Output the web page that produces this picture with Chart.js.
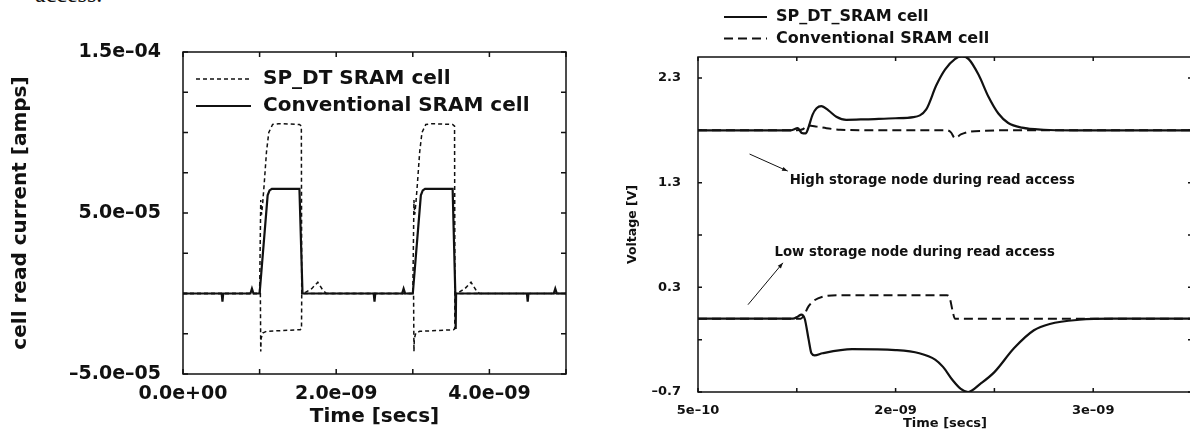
<!DOCTYPE html>
<html>
<head>
<meta charset="utf-8">
<script src="https://cdn.jsdelivr.net/npm/chart.js@4.4.1/dist/chart.umd.min.js"></script>
<style>
  html, body { margin: 0; padding: 0; background: #fff; overflow: hidden; width: 1190px; height: 437px; }
  .panel { position: absolute; top: 0; }
  #left { left: 0; }
  #right { left: 600px; }
  .cut { position: absolute; left: 35px; top: -18px; font: 24px "Liberation Serif"; line-height: 24px; color: #111; }
</style>
</head>
<body>
<div class="cut">access.</div>
<div class="panel" id="left"><canvas id="readCurrent" width="600" height="437"></canvas></div>
<div class="panel" id="right"><canvas id="nodeVoltage" width="600" height="437"></canvas></div>
<script>
// left panel: cell read current vs time
const convTime = [0, 0.505e-9, 0.515e-9, 0.525e-9, 0.88e-9, 0.90e-9, 0.92e-9, 1.00e-9, 1.105e-9, 1.13e-9, 1.16e-9, 1.52e-9, 1.56e-9,
  2.49e-9, 2.50e-9, 2.51e-9, 2.86e-9, 2.88e-9, 2.90e-9, 3.00e-9, 3.105e-9, 3.13e-9, 3.16e-9, 3.52e-9, 3.555e-9, 3.56e-9, 3.565e-9,
  4.49e-9, 4.50e-9, 4.51e-9, 4.84e-9, 4.86e-9, 4.88e-9, 5.0e-9];
const convCurrent = [0, 0, -0.5e-5, 0, 0, 0.3e-5, 0, 0, 6.1e-5, 6.4e-5, 6.5e-5, 6.5e-5, 0,
  0, -0.5e-5, 0, 0, 0.3e-5, 0, 0, 6.1e-5, 6.4e-5, 6.5e-5, 6.5e-5, 0, -2.2e-5, 0,
  0, -0.5e-5, 0, 0, 0.3e-5, 0, 0];

const spdtHighTime = [0, 1.00e-9, 1.015e-9, 1.025e-9, 1.04e-9, 1.06e-9, 1.09e-9, 1.12e-9, 1.17e-9, 1.25e-9, 1.52e-9, 1.545e-9, 1.55e-9,
  1.61e-9, 1.68e-9, 1.76e-9, 1.82e-9, 1.87e-9,
  3.00e-9, 3.015e-9, 3.025e-9, 3.04e-9, 3.06e-9, 3.09e-9, 3.12e-9, 3.17e-9, 3.25e-9, 3.52e-9, 3.545e-9, 3.55e-9,
  3.61e-9, 3.68e-9, 3.76e-9, 3.82e-9, 3.87e-9, 5.0e-9];
const spdtHighCurrent = [0, 0, 5.8e-5, 4.9e-5, 5.6e-5, 6.8e-5, 8.8e-5, 1.0e-4, 1.05e-4, 1.055e-4, 1.05e-4, 1.04e-4, 0,
  0.1e-5, 0.3e-5, 0.7e-5, 0.25e-5, 0,
  0, 5.8e-5, 4.9e-5, 5.6e-5, 6.8e-5, 8.8e-5, 1.0e-4, 1.05e-4, 1.055e-4, 1.05e-4, 1.04e-4, 0,
  0.1e-5, 0.3e-5, 0.7e-5, 0.25e-5, 0, 0];

const spdtLowTime = [0, 1.01e-9, 1.015e-9, 1.02e-9, 1.04e-9, 1.09e-9, 1.53e-9, 1.547e-9, 1.55e-9,
  3.01e-9, 3.015e-9, 3.02e-9, 3.04e-9, 3.09e-9, 3.53e-9, 3.547e-9, 3.55e-9, 5.0e-9];
const spdtLowCurrent = [0, 0, -3.6e-5, -2.8e-5, -2.45e-5, -2.35e-5, -2.25e-5, -2.2e-5, 0,
  0, -3.6e-5, -2.8e-5, -2.45e-5, -2.35e-5, -2.25e-5, -2.2e-5, 0, 0];

const currentTicks = [-5e-5, -2.5e-5, 0, 2.5e-5, 5e-5, 7.5e-5, 1e-4, 1.25e-4, 1.5e-4];
const currentTickLabels = ['–5.0e–05', '', '', '', '5.0e–05', '', '', '', '1.5e–04'];
const currentTimeTicks = [0, 1e-9, 2e-9, 3e-9, 4e-9, 5e-9];
const currentTimeTickLabels = ['0.0e+00', '', '2.0e–09', '', '4.0e–09', ''];

// right panel: storage node voltages vs time
const spdtHighNodeTime = [1.0e-9, 1.47e-9, 1.505e-9, 1.525e-9, 1.545e-9, 1.556e-9, 1.58e-9, 1.60e-9, 1.624e-9, 1.66e-9, 1.70e-9, 1.75e-9,
  1.85e-9, 2.0e-9, 2.09e-9, 2.155e-9, 2.206e-9, 2.25e-9, 2.30e-9, 2.335e-9, 2.37e-9, 2.42e-9, 2.47e-9, 2.52e-9, 2.57e-9,
  2.64e-9, 2.75e-9, 2.9e-9, 3.5e-9];
const spdtHighNodeVolt = [1.80, 1.80, 1.82, 1.775, 1.77, 1.81, 1.95, 2.01, 2.03, 1.99, 1.93, 1.90,
  1.905, 1.915, 1.925, 2.0, 2.23, 2.38, 2.48, 2.505, 2.48, 2.33, 2.12, 1.96, 1.87,
  1.825, 1.805, 1.80, 1.80];

const convHighNodeTime = [1.0e-9, 1.50e-9, 1.53e-9, 1.555e-9, 1.60e-9, 1.65e-9, 1.72e-9, 1.9e-9, 2.26e-9, 2.28e-9, 2.30e-9,
  2.33e-9, 2.37e-9, 2.45e-9, 2.55e-9, 3.5e-9];
const convHighNodeVolt = [1.80, 1.80, 1.81, 1.845, 1.835, 1.82, 1.805, 1.80, 1.80, 1.78, 1.725,
  1.76, 1.785, 1.795, 1.80, 1.80];

const spdtLowNodeTime = [1.0e-9, 1.48e-9, 1.505e-9, 1.523e-9, 1.54e-9, 1.56e-9, 1.574e-9, 1.59e-9, 1.63e-9, 1.78e-9, 2.0e-9,
  2.12e-9, 2.2e-9, 2.24e-9, 2.29e-9, 2.33e-9, 2.367e-9, 2.43e-9, 2.50e-9, 2.60e-9, 2.70e-9, 2.78e-9, 2.93e-9, 3.1e-9, 3.5e-9];
const spdtLowNodeVolt = [0, 0, 0.02, 0.04, 0.0, -0.2, -0.33, -0.35, -0.33, -0.29, -0.30,
  -0.33, -0.39, -0.46, -0.59, -0.67, -0.70, -0.62, -0.51, -0.28, -0.11, -0.05, -0.01, 0, 0];

const convLowNodeTime = [1.0e-9, 1.52e-9, 1.535e-9, 1.56e-9, 1.585e-9, 1.63e-9, 1.70e-9, 2.26e-9, 2.275e-9, 2.29e-9, 2.30e-9, 3.5e-9];
const convLowNodeVolt = [0, 0, 0.03, 0.12, 0.17, 0.21, 0.224, 0.225, 0.19, 0.06, 0.0, 0];

const voltTicks = [-0.7, -0.2, 0.3, 0.8, 1.3, 1.8, 2.3];
const voltTickLabels = ['–0.7', '', '0.3', '', '1.3', '', '2.3'];
const voltTimeTicks = [1e-9, 1.5e-9, 2e-9, 2.5e-9, 3e-9];
const voltTimeTickLabels = ['5e–10', '', '2e–09', '', '3e–09'];

// annotations on the right panel (data units)
const noteText = ['High storage node during read access', 'Low storage node during read access'];
const noteTime = [1.464e-9, 1.387e-9];
const noteVolt = [1.317, 0.63];
const arrowTailTime = [1.261e-9, 1.253e-9];
const arrowTailVolt = [1.573, 0.134];
const arrowHeadTime = [1.454e-9, 1.43e-9];
const arrowHeadVolt = [1.41, 0.534];

const pts = (xs, ys) => xs.map((x, i) => ({ x, y: ys[i] }));
const INK = '#111';

Chart.defaults.font.family = '"DejaVu Sans", sans-serif';
Chart.defaults.font.weight = 'bold';
Chart.defaults.color = INK;

// box around the plot with inward tick marks
const framePlugin = {
  id: 'frame',
  afterDatasetsDraw(chart, args, o) {
    const { ctx, chartArea: a, scales } = chart;
    ctx.save();
    ctx.strokeStyle = INK;
    ctx.lineWidth = o.width;
    ctx.setLineDash([]);
    ctx.strokeRect(a.left, a.top, a.right - a.left, a.bottom - a.top);
    ctx.beginPath();
    scales.x.ticks.forEach(t => {
      const px = scales.x.getPixelForValue(t.value);
      ctx.moveTo(px, a.bottom); ctx.lineTo(px, a.bottom - o.tick);
      ctx.moveTo(px, a.top); ctx.lineTo(px, a.top + o.tick);
    });
    scales.y.ticks.forEach(t => {
      const py = scales.y.getPixelForValue(t.value);
      ctx.moveTo(a.left, py); ctx.lineTo(a.left + o.tick, py);
      ctx.moveTo(a.right, py); ctx.lineTo(a.right - o.tick, py);
    });
    ctx.stroke();
    ctx.restore();
  }
};

// legend drawn as line samples, placed relative to the plot area
const lineLegend = {
  id: 'lineLegend',
  afterDraw(chart, args, o) {
    const { ctx, chartArea: a } = chart;
    let y = a.top + o.top;
    ctx.save();
    ctx.font = o.font;
    ctx.fillStyle = INK;
    ctx.textBaseline = 'middle';
    chart.data.datasets.forEach(ds => {
      if (!ds.label) return;
      const x0 = a.left + o.left;
      ctx.strokeStyle = ds.borderColor;
      ctx.lineWidth = ds.borderWidth;
      ctx.setLineDash(ds.borderDash || []);
      ctx.beginPath();
      ctx.moveTo(x0, y);
      ctx.lineTo(x0 + o.lineLength, y);
      ctx.stroke();
      ctx.fillText(ds.label, x0 + o.lineLength + o.gap, y);
      y += o.rowGap;
    });
    ctx.restore();
  }
};

// text notes with arrows, positioned in data coordinates
const notesPlugin = {
  id: 'notes',
  afterDraw(chart, args, o) {
    if (!o.enabled) return;
    const { ctx, scales: { x, y } } = chart;
    ctx.save();
    ctx.font = o.font;
    ctx.fillStyle = INK;
    ctx.strokeStyle = INK;
    ctx.lineWidth = 1;
    ctx.setLineDash([]);
    ctx.textBaseline = 'middle';
    noteText.forEach((txt, i) => {
      ctx.fillText(txt, x.getPixelForValue(noteTime[i]), y.getPixelForValue(noteVolt[i]));
    });
    arrowTailTime.forEach((t, i) => {
      const x1 = x.getPixelForValue(t), y1 = y.getPixelForValue(arrowTailVolt[i]);
      const x2 = x.getPixelForValue(arrowHeadTime[i]), y2 = y.getPixelForValue(arrowHeadVolt[i]);
      const ang = Math.atan2(y2 - y1, x2 - x1);
      ctx.beginPath();
      ctx.moveTo(x1, y1);
      ctx.lineTo(x2, y2);
      ctx.stroke();
      ctx.beginPath();
      ctx.moveTo(x2, y2);
      ctx.lineTo(x2 - 6 * Math.cos(ang - 0.35), y2 - 6 * Math.sin(ang - 0.35));
      ctx.lineTo(x2 - 6 * Math.cos(ang + 0.35), y2 - 6 * Math.sin(ang + 0.35));
      ctx.closePath();
      ctx.fill();
    });
    ctx.restore();
  }
};

function fixedTicks(values) {
  return scale => { scale.ticks = values.map(value => ({ value })); };
}

new Chart(document.getElementById('readCurrent'), {
  type: 'line',
  data: {
    datasets: [
      { label: 'SP_DT SRAM cell', data: pts(spdtHighTime, spdtHighCurrent), borderColor: INK, borderWidth: 1.5, borderDash: [4, 3] },
      { label: 'Conventional SRAM cell', data: pts(convTime, convCurrent), borderColor: INK, borderWidth: 2.2 },
      { label: '', data: pts(spdtLowTime, spdtLowCurrent), borderColor: INK, borderWidth: 1.5, borderDash: [4, 3] }
    ]
  },
  options: {
    responsive: false,
    animation: false,
    events: [],
    elements: { point: { radius: 0 }, line: { tension: 0 } },
    layout: { padding: { top: 52, right: 34, bottom: 0, left: 0 } },
    scales: {
      x: {
        type: 'linear', min: 0, max: 5e-9,
        afterBuildTicks: fixedTicks(currentTimeTicks),
        afterFit: s => { s.height = 63; },
        grid: { display: false }, border: { display: false },
        ticks: { autoSkip: false, maxRotation: 0, padding: 1, font: { size: 19 }, callback: (v, i) => currentTimeTickLabels[i] },
        title: { display: true, text: 'Time [secs]', font: { size: 20 }, padding: { top: 0, bottom: 8 } }
      },
      y: {
        type: 'linear', min: -5e-5, max: 1.5e-4,
        afterBuildTicks: fixedTicks(currentTicks),
        afterFit: s => { s.width = 183; },
        grid: { display: false }, border: { display: false },
        ticks: { autoSkip: false, padding: 14, font: { size: 19 }, callback: (v, i) => currentTickLabels[i] },
        title: { display: true, text: 'cell read current [amps]', font: { size: 20 }, padding: { top: 9, bottom: 0 } }
      }
    },
    plugins: {
      legend: { display: false },
      tooltip: { enabled: false },
      frame: { width: 1.5, tick: 5 },
      lineLegend: { top: 27, left: 13, lineLength: 55, gap: 12, rowGap: 27, font: 'bold 20px "DejaVu Sans"' }
    }
  },
  plugins: [framePlugin, lineLegend]
});

new Chart(document.getElementById('nodeVoltage'), {
  type: 'line',
  data: {
    datasets: [
      { label: 'SP_DT_SRAM cell', data: pts(spdtHighNodeTime, spdtHighNodeVolt), borderColor: INK, borderWidth: 2.2 },
      { label: 'Conventional SRAM cell', data: pts(convHighNodeTime, convHighNodeVolt), borderColor: INK, borderWidth: 2, borderDash: [9, 5] },
      { label: '', data: pts(spdtLowNodeTime, spdtLowNodeVolt), borderColor: INK, borderWidth: 2.2 },
      { label: '', data: pts(convLowNodeTime, convLowNodeVolt), borderColor: INK, borderWidth: 2, borderDash: [9, 5] }
    ]
  },
  options: {
    responsive: false,
    animation: false,
    events: [],
    elements: { point: { radius: 0 }, line: { cubicInterpolationMode: 'monotone' } },
    layout: { padding: { top: 57, right: 8, bottom: 0, left: 0 } },
    scales: {
      x: {
        type: 'linear', min: 1e-9, max: 3.5e-9,
        afterBuildTicks: fixedTicks(voltTimeTicks),
        afterFit: s => { s.height = 45; },
        grid: { display: false }, border: { display: false },
        ticks: { autoSkip: false, maxRotation: 0, padding: 3, font: { size: 13 }, callback: (v, i) => voltTimeTickLabels[i] },
        title: { display: true, text: 'Time [secs]', font: { size: 13 }, padding: { top: 0, bottom: 6 } }
      },
      y: {
        type: 'linear', min: -0.7, max: 2.5,
        afterBuildTicks: fixedTicks(voltTicks),
        afterFit: s => { s.width = 98; },
        grid: { display: false }, border: { display: false },
        ticks: { autoSkip: false, padding: 9, font: { size: 13 }, callback: (v, i) => voltTickLabels[i] },
        title: { display: true, text: 'Voltage [V]', font: { size: 12.5 }, padding: { top: 25, bottom: 0 } }
      }
    },
    plugins: {
      legend: { display: false },
      tooltip: { enabled: false },
      frame: { width: 1.5, tick: 4 },
      lineLegend: { top: -40, left: 26, lineLength: 43, gap: 9, rowGap: 21.5, font: 'bold 16px "DejaVu Sans"' },
      notes: { enabled: true, font: 'bold 13.3px "DejaVu Sans"' }
    }
  },
  plugins: [framePlugin, lineLegend, notesPlugin]
});
</script>
</body>
</html>
